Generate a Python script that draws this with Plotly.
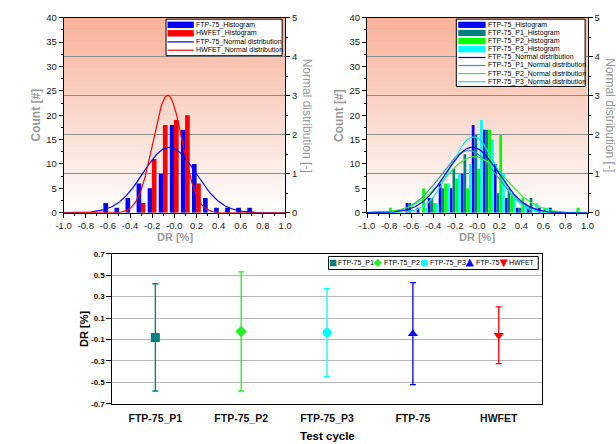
import numpy as np
import plotly.graph_objects as go

W, H = 616, 444
FONT = "Arial, Liberation Sans, sans-serif"

# ---------------- data ----------------
bins = [-0.8, -0.7, -0.6, -0.5, -0.4, -0.3, -0.2, -0.1, 0.0, 0.1,
        0.2, 0.3, 0.4, 0.5, 0.6, 0.7, 0.8, 0.9]
ftp75_counts = [0, 0, 2, 1, 3, 6, 5, 8, 18, 17, 10, 3, 1, 1, 1, 1, 0, 0]
hwfet_counts = [0, 0, 0, 0, 0, 2, 11, 18, 19, 20, 6, 0, 0, 0, 0, 0, 0, 0]
p1_counts = [0, 0, 2, 0, 3, 5, 9, 12, 16, 17, 4, 5, 1, 3, 0, 0, 0, 0]
p2_counts = [1, 0, 0, 5, 2, 6, 7, 5, 9, 17, 16, 4, 3, 0, 1, 0, 0, 1]
p3_counts = [0, 0, 0, 1, 2, 6, 8, 10, 19, 15, 8, 3, 2, 2, 1, 0, 0, 0]

x_ticks = [-1.0, -0.8, -0.6, -0.4, -0.2, 0.0, 0.2, 0.4, 0.6, 0.8, 1.0]
x_tick_labels = ["-1.0", "-0.8", "-0.6", "-0.4", "-0.2", "-0.0",
                 "0.2", "0.4", "0.6", "0.8", "1.0"]

cycles = ["FTP-75_P1", "FTP-75_P2", "FTP-75_P3", "FTP-75", "HWFET"]
dr_mean = [-0.08, -0.025, -0.035, -0.045, -0.06]
dr_err = [0.50, 0.555, 0.41, 0.475, 0.265]      # error bar half width
dr_sd = [0.25, 0.2775, 0.205, 0.2375, 0.1325]   # std dev of normal fit

yb_ticks = [-0.7, -0.5, -0.3, -0.1, 0.1, 0.3, 0.5, 0.7]
yb_tick_labels = ["-0.7", "-0.5", "-0.3", "-0.1", "0.1", "0.3", "0.5", "0.7"]

left_names = ["FTP-75_Histogram", "HWFET_Histogram",
              "FTP-75_Normal distribution", "HWFET_Normal distribution"]
right_names = ["FTP-75_Histogram", "FTP-75_P1_Histogram", "FTP-75_P2_Histogram",
               "FTP-75_P3_Histogram", "FTP-75_Normal distribution",
               "FTP-75_P1_Normal distribution", "FTP-75_P2_Normal distribution",
               "FTP-75_P3_Normal distribution"]

# colours
BLUE, RED, TEAL, LIME, CYAN = "#0000FF", "#FF0000", "#008080", "#00FF00", "#00FFFF"
TEAL_L, LIME_L, CYAN_L = "#3F9A9A", "#33EE33", "#00E8F0"
GRAY_T = "#9a9a9a"


def px(x):
    return x / W


def py(y):
    return 1 - y / H


xs = np.linspace(-1, 1, 401)


def npdf(m, s):
    return np.exp(-0.5 * ((xs - m) / s) ** 2) / (s * np.sqrt(2 * np.pi))


fig = go.Figure()

# ---------------- top-left panel ----------------
fig.add_bar(x=bins, y=ftp75_counts, width=0.042, offset=-0.041, marker_color=BLUE,
            marker_line_width=0, xaxis="x", yaxis="y", showlegend=False)
fig.add_bar(x=bins, y=hwfet_counts, width=0.042, offset=-0.003, marker_color=RED,
            marker_line_width=0, xaxis="x", yaxis="y", showlegend=False)
fig.add_scatter(x=xs, y=npdf(dr_mean[3], dr_sd[3]), mode="lines",
                line=dict(color=BLUE, width=1.2), xaxis="x", yaxis="y2", showlegend=False)
fig.add_scatter(x=xs, y=npdf(dr_mean[4], dr_sd[4]), mode="lines",
                line=dict(color=RED, width=1.2), xaxis="x", yaxis="y2", showlegend=False)

# ---------------- top-right panel ----------------
for cnt, col, off in [(ftp75_counts, BLUE, -0.05), (p1_counts, TEAL, -0.025),
                      (p2_counts, LIME, 0.0), (p3_counts, CYAN, 0.025)]:
    fig.add_bar(x=bins, y=cnt, width=0.025, offset=off, marker_color=col,
                marker_line_width=0, xaxis="x2", yaxis="y3", showlegend=False)
for i, col in [(0, TEAL_L), (1, LIME_L), (2, CYAN_L), (3, BLUE)]:
    fig.add_scatter(x=xs, y=npdf(dr_mean[i], dr_sd[i]), mode="lines",
                    line=dict(color=col, width=1.2), xaxis="x2", yaxis="y4",
                    showlegend=False)

# ---------------- bottom panel ----------------
b_colors = [TEAL, "#22F022", CYAN, BLUE, RED]
b_symbols = ["square", "diamond", "circle", "triangle-up", "triangle-down"]
for i in range(5):
    fig.add_scatter(x=[cycles[i]], y=[dr_mean[i]], mode="markers",
                    marker=dict(symbol=b_symbols[i], size=9, color=b_colors[i]),
                    error_y=dict(type="data", array=[dr_err[i]], color=b_colors[i],
                                 thickness=1.3, width=3),
                    xaxis="x3", yaxis="y5", showlegend=False)

# ---------------- axes ----------------
def top_x(domain, anchor):
    return dict(domain=domain, anchor=anchor, range=[-1, 1], tickmode="array",
                tickvals=x_ticks, ticktext=x_tick_labels, ticks="outside", ticklen=4,
                tickcolor="black", showline=True, linecolor="black", linewidth=1,
                mirror=True, showgrid=False, zeroline=False,
                tickfont=dict(size=9.5, color="#1a1a1a", family=FONT),
                minor=dict(tick0=-1, dtick=0.1, ticks="outside", ticklen=2,
                           tickcolor="black", showgrid=False))


def top_y(anchor):
    return dict(domain=[232 / H, 432 / H], anchor=anchor, range=[0, 40], tick0=0, dtick=5,
                ticks="outside", ticklen=4, tickcolor="black", showline=True,
                linecolor="black", linewidth=1, showgrid=False, zeroline=False,
                tickfont=dict(size=9.5, color="#1a1a1a", family=FONT),
                minor=dict(tick0=0, dtick=2.5, ticks="outside", ticklen=2,
                           tickcolor="black", showgrid=False))


def top_y2(over, anchor):
    return dict(overlaying=over, side="right", anchor=anchor, range=[0, 5], tick0=0,
                dtick=1, ticks="outside", ticklen=4, tickcolor="black", showline=True,
                linecolor="black", linewidth=1, showgrid=True, gridcolor="#8a8a8a",
                gridwidth=1, zeroline=False,
                tickfont=dict(size=9.5, color="#1a1a1a", family=FONT),
                minor=dict(tick0=0, dtick=0.5, ticks="outside", ticklen=2,
                           tickcolor="black", showgrid=False))


fig.update_layout(
    width=W, height=H, margin=dict(l=0, r=0, t=0, b=0),
    paper_bgcolor="white", plot_bgcolor="white", barmode="overlay",
    font=dict(family=FONT, color="black"),
    xaxis=top_x([57 / W, 284 / W], "y"),
    yaxis=top_y("x"),
    yaxis2=top_y2("y", "x"),
    xaxis2=top_x([368 / W, 594 / W], "y3"),
    yaxis3=top_y("x2"),
    yaxis4=top_y2("y3", "x2"),
    xaxis3=dict(domain=[107 / W, 547 / W], anchor="y5", type="category",
                categoryorder="array", categoryarray=cycles, range=[-0.5, 4.5],
                showline=True, linecolor="black", linewidth=1, mirror=True,
                showgrid=False, ticks="outside", ticklen=5,
                tickcolor="rgba(0,0,0,0)",
                tickfont=dict(size=10.5, color="#111", family=FONT, weight="bold")),
    yaxis5=dict(domain=[36 / H, 190 / H], anchor="x3", range=[-0.7, 0.7],
                tickmode="array", tickvals=yb_ticks, ticktext=yb_tick_labels,
                showgrid=True, gridcolor="#b8b8b8", gridwidth=1, zeroline=False,
                ticks="outside", ticklen=5, tickcolor="black", showline=True,
                linecolor="black", linewidth=1, mirror=True,
                tickfont=dict(size=8, color="#111", family=FONT, weight="bold")),
)

shapes = []
annotations = []

# gradient background for top panels
N = 60
top_c = np.array([248, 178, 154])
for xd, yd in [("x domain", "y domain"), ("x2 domain", "y3 domain")]:
    for k in range(N):
        t = (k + 0.5) / N  # 0 bottom, 1 top
        c = (255 + (top_c - 255) * t).astype(int)
        shapes.append(dict(type="rect", xref=xd, yref=yd, x0=0, x1=1,
                           y0=k / N, y1=(k + 1) / N + 0.002, layer="below",
                           line=dict(width=0),
                           fillcolor=f"rgb({c[0]},{c[1]},{c[2]})"))


def ann(text, x, y, size, color="black", angle=0, bold=False, anchor="center"):
    annotations.append(dict(text=text, x=px(x), y=py(y), xref="paper", yref="paper",
                            showarrow=False, textangle=angle, xanchor=anchor,
                            yanchor="middle", borderpad=0,
                            font=dict(size=size, color=color, family=FONT,
                                      weight="bold" if bold else "normal")))


def rect(x0, x1, y0, y1, fill, line_color=None, lw=0):
    shapes.append(dict(type="rect", xref="paper", yref="paper", x0=px(x0), x1=px(x1),
                       y0=py(y1), y1=py(y0), fillcolor=fill, layer="above",
                       line=dict(color=line_color or fill, width=lw)))


def hline(x0, x1, y, color, w=1.2):
    shapes.append(dict(type="line", xref="paper", yref="paper", x0=px(x0), x1=px(x1),
                       y0=py(y), y1=py(y), line=dict(color=color, width=w), layer="above"))


def path(points, fill):
    d = "M " + " L ".join(f"{px(a):.5f},{py(b):.5f}" for a, b in points) + " Z"
    shapes.append(dict(type="path", xref="paper", yref="paper", path=d, fillcolor=fill,
                       line=dict(color=fill, width=0.5), layer="above"))


# axis titles
ann("Count [#]", 29, 112, 12, GRAY_T, -90, True)
ann("DR [%]", 171, 237, 11, GRAY_T, 0, True)
ann("Normal distribution [-]", 306, 112, 12, GRAY_T, 90)
ann("Count [#]", 340, 112, 12, GRAY_T, -90, True)
ann("DR [%]", 481, 237, 11, GRAY_T, 0, True)
ann("Normal distribution [-]", 617, 112, 12, GRAY_T, 90)
ann("DR [%]", 78, 331, 11, "black", -90, True)
ann("Test cycle", 327, 441, 11.5, "black", 0, True)

# top-left legend
rect(162, 281, 13.5, 51, "white", "black", 1)
l_cols = [BLUE, RED, BLUE, RED]
l_rows = [19.3, 28.0, 36.8, 45.3]
for i in range(4):
    if i < 2:
        rect(163.5, 190.5, l_rows[i] - 3.3, l_rows[i] + 3.3, l_cols[i])
    else:
        hline(163.5, 190.5, l_rows[i], l_cols[i])
    ann(left_names[i], 191.5, l_rows[i], 7, "black", anchor="left")

# top-right legend
rect(459.5, 591.5, 13.5, 82.5, "white", "black", 1)
r_cols = [BLUE, TEAL, LIME, CYAN, BLUE, TEAL_L, LIME_L, CYAN_L]
r_rows = [19.3, 27.7, 36.0, 44.3, 52.8, 61.0, 69.3, 77.6]
for i in range(8):
    if i < 4:
        rect(461.5, 489.5, r_rows[i] - 3.2, r_rows[i] + 3.2, r_cols[i])
    else:
        hline(461.5, 489.5, r_rows[i], r_cols[i])
    ann(right_names[i], 490.5, r_rows[i], 7, "black", anchor="left")

# bottom legend
rect(328.5, 543.5, 256.8, 270.2, "white", "black", 1)
yc = 263.5
mx = [333.3, 379.0, 426.7, 473.3, 508.0]
tx = [337.5, 384.5, 431.5, 478.5, 512.5]
rect(mx[0] - 3.3, mx[0] + 3.3, yc - 3.3, yc + 3.3, b_colors[0])
path([(mx[1], yc - 4), (mx[1] + 4, yc), (mx[1], yc + 4), (mx[1] - 4, yc)], b_colors[1])
shapes.append(dict(type="circle", xref="paper", yref="paper", x0=px(mx[2] - 3.6),
                   x1=px(mx[2] + 3.6), y0=py(yc + 3.6), y1=py(yc - 3.6),
                   fillcolor=b_colors[2], line=dict(width=0), layer="above"))
path([(mx[3], yc - 4), (mx[3] + 3.8, yc + 3.3), (mx[3] - 3.8, yc + 3.3)], b_colors[3])
path([(mx[4], yc + 4), (mx[4] + 3.8, yc - 3.3), (mx[4] - 3.8, yc - 3.3)], b_colors[4])
for i in range(5):
    ann(cycles[i], tx[i], yc, 7, "black", anchor="left")

fig.update_layout(shapes=shapes, annotations=annotations)
fig.write_html("out.html")
